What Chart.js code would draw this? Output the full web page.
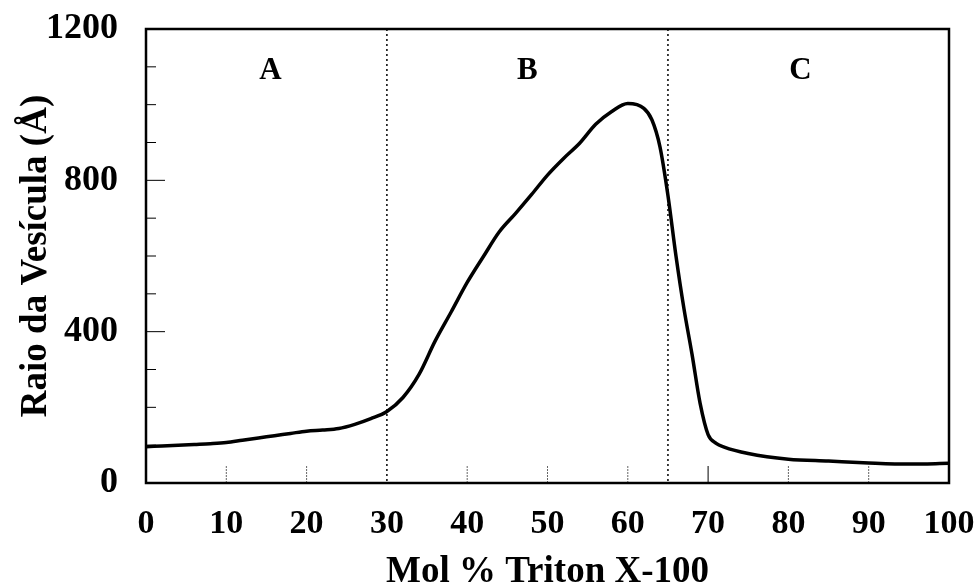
<!DOCTYPE html>
<html>
<head>
<meta charset="utf-8">
<script src="https://cdn.jsdelivr.net/npm/chart.js@4.4.1/dist/chart.umd.min.js"></script>
<style>
  html, body { margin: 0; padding: 0; background: #fff; }
  #wrap { width: 975px; height: 584px; }
</style>
</head>
<body>
<div id="wrap"><canvas id="c" width="975" height="584"></canvas></div>
<script>
// ---- data ----
const molPercent = [0, 2, 4, 6, 8, 10, 12, 14, 16, 18, 20, 22, 24, 26, 28, 30, 32, 34, 36, 38, 40, 42, 44, 46, 48, 50, 52, 54, 56, 58, 60, 62, 63, 64, 65, 66, 67, 68, 69, 70, 71, 72, 75, 80, 85, 90, 95, 100];
const radius = [96, 98, 100, 102, 104, 107, 113, 119, 125, 131, 137, 140, 144, 155, 170, 189, 226, 287, 375, 452, 530, 598, 664, 712, 762, 814, 858, 898, 948, 982, 1003, 990, 960, 889, 760, 600, 460, 340, 211, 128, 105, 95, 78, 63, 58, 53, 50, 52];
const xTicks = [0, 10, 20, 30, 40, 50, 60, 70, 80, 90, 100];
const yTicks = [0, 400, 800, 1200];
const regionBounds = [30, 65];
const regionLabels = ['A', 'B', 'C'];
const regionLabelX = [15.5, 47.5, 81.5];
const regionLabelY = [1090, 1090, 1090];
const xTitle = 'Mol % Triton X-100';
const yTitle = 'Raio da Vesícula (Å)';

const points = molPercent.map((x, i) => ({ x: x, y: radius[i] }));
const FONT = '"Liberation Serif", "Times New Roman", serif';

function zeroPad(s) { s.paddingTop = 0; s.paddingBottom = 0; s.paddingLeft = 0; s.paddingRight = 0; }

const decor = {
  id: 'decor',
  afterDraw(chart) {
    const { ctx, chartArea: a, scales: { x, y } } = chart;
    ctx.save();
    for (let v = 100; v < 1200; v += 100) {
      const py = y.getPixelForValue(v);
      const len = (v % 400 === 0) ? 19 : 10;
      ctx.strokeStyle = '#000';
      ctx.lineWidth = 1;
      ctx.beginPath();
      ctx.moveTo(a.left, py);
      ctx.lineTo(a.left + len, py);
      ctx.stroke();
    }
    for (let v = 10; v < 100; v += 10) {
      if (v === 30) continue;
      const px = x.getPixelForValue(v);
      ctx.beginPath();
      if (v === 70) { ctx.setLineDash([]); ctx.strokeStyle = '#000'; }
      else { ctx.setLineDash([2, 1]); ctx.strokeStyle = '#666'; }
      ctx.lineWidth = 1;
      ctx.moveTo(px, a.bottom);
      ctx.lineTo(px, a.bottom - 17);
      ctx.stroke();
    }
    ctx.setLineDash([]);
    regionBounds.forEach(v => {
      const px = x.getPixelForValue(v);
      ctx.beginPath();
      ctx.setLineDash([2, 3]);
      ctx.strokeStyle = '#000';
      ctx.lineWidth = 1.5;
      ctx.moveTo(px, a.top);
      ctx.lineTo(px, a.bottom);
      ctx.stroke();
    });
    ctx.setLineDash([]);
    ctx.fillStyle = '#000';
    ctx.font = 'bold 31px ' + FONT;
    ctx.textAlign = 'center';
    ctx.textBaseline = 'middle';
    regionLabels.forEach((t, i) => {
      ctx.fillText(t, x.getPixelForValue(regionLabelX[i]), y.getPixelForValue(regionLabelY[i]));
    });
    ctx.strokeStyle = '#000';
    ctx.lineWidth = 2.5;
    ctx.strokeRect(a.left, a.top, a.right - a.left, a.bottom - a.top);
    ctx.restore();
  }
};

new Chart(document.getElementById('c'), {
  type: 'line',
  data: {
    datasets: [{
      data: points,
      borderColor: '#000',
      borderWidth: 3.5,
      pointRadius: 0,
      fill: false,
      cubicInterpolationMode: 'monotone'
    }]
  },
  options: {
    responsive: false,
    animation: false,
    layout: { padding: { left: 0, right: 26, top: 29, bottom: 0 } },
    plugins: { legend: { display: false }, tooltip: { enabled: false } },
    scales: {
      x: {
        type: 'linear',
        min: 0, max: 100,
        afterBuildTicks: s => { s.ticks = xTicks.map(v => ({ value: v })); },
        afterFit: s => { s.height = 101; zeroPad(s); },
        grid: { display: false, drawTicks: false },
        border: { display: false },
        ticks: { color: '#000', font: { family: FONT, size: 34, weight: 'bold' }, padding: 21, maxRotation: 0, callback: v => String(v) },
        title: { display: true, text: xTitle, color: '#000', font: { family: FONT, size: 37, weight: 'bold', lineHeight: 1 }, padding: { top: -7, bottom: -7 } }
      },
      y: {
        min: 0, max: 1200,
        afterBuildTicks: s => { s.ticks = yTicks.map(v => ({ value: v })); },
        afterFit: s => { s.width = 146; zeroPad(s); },
        grid: { display: false, drawTicks: false },
        border: { display: false },
        ticks: { color: '#000', font: { family: FONT, size: 36, weight: 'bold' }, padding: 28, callback: v => String(v) },
        title: { display: true, text: yTitle, color: '#000', font: { family: FONT, size: 37, weight: 'bold', lineHeight: 1 }, padding: { top: 18, bottom: 0 } }
      }
    }
  },
  plugins: [decor]
});
</script>
</body>
</html>
